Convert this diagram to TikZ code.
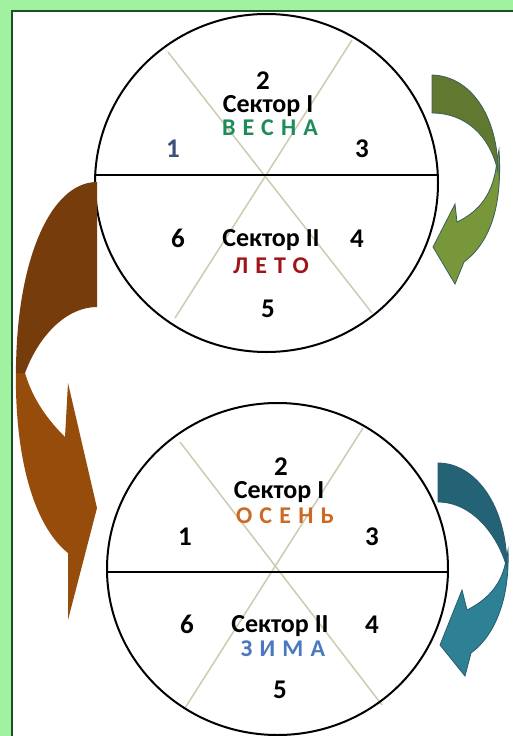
\documentclass[tikz,border=0pt]{standalone}
\usepackage{fontspec}
\setmainfont{Carlito}
\newfontfamily\seasonfont[LetterSpace=30]{Carlito}
\usetikzlibrary{positioning}
\definecolor{frame}{RGB}{160,242,160}
\definecolor{frameline}{RGB}{30,80,40}
\definecolor{raycol}{RGB}{205,203,178}
\definecolor{springcol}{RGB}{30,140,90}
\definecolor{summercol}{RGB}{160,20,25}
\definecolor{autumncol}{RGB}{205,105,35}
\definecolor{wintercol}{RGB}{75,120,190}
\definecolor{onecol}{RGB}{60,80,120}
\definecolor{brownback}{RGB}{118,60,12}
\definecolor{brownfront}{RGB}{150,76,10}
\definecolor{greenback}{RGB}{96,120,48}
\definecolor{greenfront}{RGB}{120,150,58}
\definecolor{greenline}{RGB}{60,95,90}
\definecolor{tealback}{RGB}{36,98,118}
\definecolor{tealfront}{RGB}{46,128,148}
\definecolor{tealline}{RGB}{40,90,110}
\tikzset{
  num/.style   ={font=\fontsize{27}{27}\selectfont\bfseries,anchor=base,inner sep=0pt},
  sec/.style   ={font=\fontsize{26}{26}\selectfont\bfseries,anchor=base,inner sep=0pt},
  season/.style={font=\seasonfont\fontsize{24}{24}\selectfont\bfseries,anchor=base,inner sep=0pt},
  rim/.style   ={draw=black,line width=2pt},
  ray/.style   ={draw=raycol,line width=1.5pt},
}

\begin{document}
\begin{tikzpicture}[x=1pt,y=-1pt]
  \useasboundingbox (0,0) rectangle (513,736);
  \fill[frame] (0,0) rectangle (513,736);
  \fill[white] (12,11) rectangle (513,736);
  \draw[frameline,line width=2pt] (12,736) -- (12,11) -- (513,11);

  % upper wheel
  \draw[ray] (168,52) -- (372,313);
  \draw[ray] (352,40) -- (175,318);
  \draw[rim] (266.5,183) ellipse [x radius=171.5pt,y radius=169pt];
  \draw[rim] (95,175) -- (438,175);
  \node[num] (t2) at (263,89) {2};
  \node[sec] (tI) at (268,112) {Сектор I};
  \node[season,springcol] (spring) at (270,135) {ВЕСНА};
  \node[num,onecol] (t1) at (173,157) {1};
  \node[num] (t3) at (362,157) {3};
  \node[num] (t6) at (178,247) {6};
  \node[sec] (tII) at (271,246) {Сектор II};
  \node[num] (t4) at (357,247) {4};
  \node[season,summercol] (summer) at (271,273) {ЛЕТО};
  \node[num] (t5) at (268,317) {5};

  % lower wheel
  \draw[ray] (180,442) -- (382,705);
  \draw[ray] (363,428) -- (185,708);
  \draw[rim] (277.5,569) ellipse [x radius=170.5pt,y radius=166pt];
  \draw[rim] (107,572) -- (448,572);
  \node[num] (b2) at (281,475) {2};
  \node[sec] (bI) at (279,498) {Сектор I};
  \node[season,autumncol] (autumn) at (285,523) {ОСЕНЬ};
  \node[num] (b1) at (185,545) {1};
  \node[num] (b3) at (372,545) {3};
  \node[num] (b6) at (187,633) {6};
  \node[sec] (bII) at (280,632) {Сектор II};
  \node[num] (b4) at (372,633) {4};
  \node[season,wintercol] (winter) at (283,656) {ЗИМА};
  \node[num] (b5) at (280,698) {5};

  % brown arrow, left
  \fill[brownfront] (16,365) .. controls (14,455) and (33,525) .. (68,553) -- (68,620) -- (97,508) -- (68,383) -- (65,437) .. controls (48,420) and (33,400) .. (25,373) -- cycle;
  \fill[brownback] (97,182) .. controls (50,182) and (16,262) .. (16,373) -- (25,373) .. controls (40,333) and (68,307) .. (97,307) -- cycle;

  % green arrow, upper right
  \filldraw[fill=greenfront,draw=greenline,line width=0.8pt] (499,150) .. controls (503,210) and (488,244) .. (464,262) -- (455,284) -- (433,247) -- (455,204) -- (457,222) .. controls (478,212) and (494,195) .. (497,160) -- cycle;
  \filldraw[fill=greenback,draw=greenline,line width=0.8pt] (432,75) .. controls (470,76) and (498,115) .. (498,172) .. controls (490,135) and (465,113) .. (432,113) -- cycle;

  % teal arrow, lower right
  \filldraw[fill=tealfront,draw=tealline,line width=0.8pt] (508,550) .. controls (510,602) and (493,637) .. (471,653) -- (465,676) -- (440,645) -- (462,590) -- (467,610) .. controls (485,601) and (500,587) .. (505,565) -- cycle;
  \filldraw[fill=tealback,draw=tealline,line width=0.8pt] (438,463) .. controls (475,463) and (507,505) .. (507,568) .. controls (498,535) and (472,502) .. (438,502) -- cycle;
\end{tikzpicture}
\end{document}
